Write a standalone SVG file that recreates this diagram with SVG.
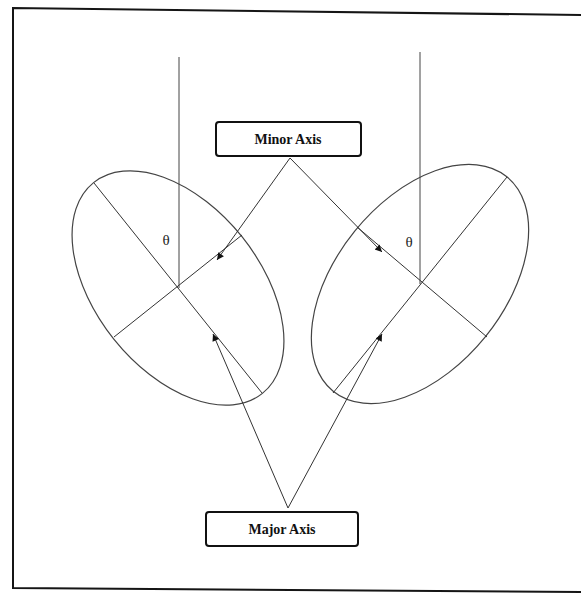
<svg xmlns="http://www.w3.org/2000/svg" width="581" height="594" viewBox="0 0 581 594">
<defs>
<style>
.frame{fill:none;stroke:#151515;stroke-width:2}
.ell{fill:none;stroke:#444;stroke-width:1.2}
.ax{stroke:#333;stroke-width:1;fill:none}
.vert{stroke:#444;stroke-width:1;fill:none}
.box{fill:#fff;stroke:#111;stroke-width:2}
.lbl{font-family:"Liberation Serif",serif;font-weight:bold;font-size:14px;fill:#111;text-anchor:middle}
.th{font-family:"Liberation Serif",serif;font-size:15px;fill:#222;text-anchor:middle}
.conn{stroke:#333;stroke-width:1;fill:none;marker-end:url(#ah)}
</style>
<marker id="ah" viewBox="0 0 10 10" refX="10" refY="5" markerWidth="9" markerHeight="7" markerUnits="userSpaceOnUse" orient="auto">
<path d="M0,0 L10,5 L0,10 Z" fill="#111"/>
</marker>
</defs>
<rect width="581" height="594" fill="#fff"/>
<polyline class="frame" points="581,15 13,8 13,588 581,592"/>

<g id="left-ellipse">
<line class="vert" x1="179" y1="57" x2="179" y2="288"/>
<ellipse class="ell" cx="178" cy="288" rx="135" ry="82" transform="rotate(51.3 178 288)"/>
<line class="ax" x1="94" y1="183" x2="262" y2="393"/>
<line class="ax" x1="242" y1="235" x2="114" y2="337"/>
<text class="th" x="166" y="245">θ</text>
</g>

<g id="right-ellipse">
<line class="vert" x1="420" y1="52" x2="420" y2="284"/>
<ellipse class="ell" cx="420" cy="284" rx="138" ry="84" transform="rotate(129 420 284)"/>
<line class="ax" x1="507" y1="177" x2="333" y2="393"/>
<line class="ax" x1="357" y1="227" x2="487" y2="337"/>
<text class="th" x="409" y="247">θ</text>
</g>

<g id="minor-axis-label">
<rect class="box" x="216" y="122" width="145" height="34" rx="3"/>
<text class="lbl" x="288" y="144">Minor Axis</text>
</g>

<g id="major-axis-label">
<rect class="box" x="206" y="512" width="152" height="34" rx="3"/>
<text class="lbl" x="282" y="534">Major Axis</text>
</g>

<g id="connectors">
<line class="conn" x1="290" y1="158" x2="217" y2="260"/>
<line class="conn" x1="290" y1="158" x2="382" y2="252"/>
<line class="conn" x1="288" y1="508" x2="213" y2="334"/>
<line class="conn" x1="288" y1="508" x2="382" y2="334"/>
</g>
</svg>
